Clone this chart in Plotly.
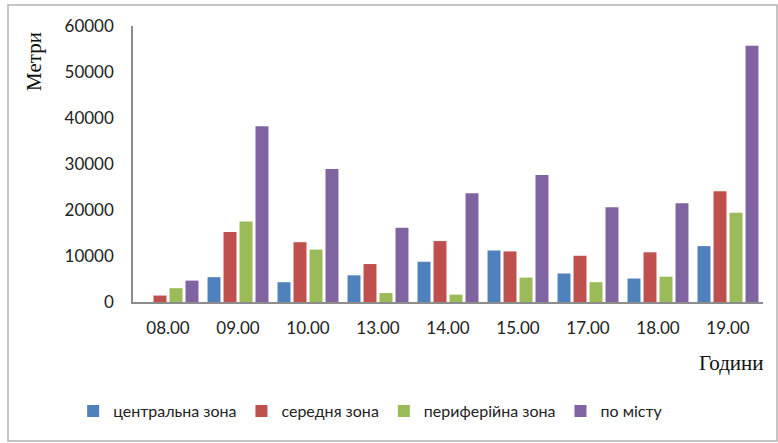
import plotly.graph_objects as go

# Hours of the survey and distances (metres) by zone
hours = ["08.00", "09.00", "10.00", "13.00", "14.00", "15.00", "17.00", "18.00", "19.00"]
central = [0, 5400, 4300, 5800, 8750, 11200, 6200, 5100, 12150]
middle = [1400, 15200, 13000, 8250, 13250, 11000, 10050, 10800, 24050]
peripheral = [3000, 17500, 11400, 1950, 1600, 5300, 4300, 5500, 19400]
city = [4650, 38200, 28900, 16150, 23650, 27600, 20600, 21450, 55700]

series_names = ["центральна зона", "середня зона", "периферійна зона", "по місту"]
series_values = [central, middle, peripheral, city]
series_colors = ["#4F81BD", "#C0504D", "#9BBB59", "#8064A2"]

fig = go.Figure()
for name, vals, col in zip(series_names, series_values, series_colors):
    fig.add_trace(go.Bar(x=hours, y=vals, name=name, marker=dict(color=col, line=dict(width=0))))

tick_font = dict(family="Lato", size=17, color="#222222")
serif_font = dict(family="Liberation Serif", size=21, color="#111111")

fig.update_layout(
    width=778, height=443,
    margin=dict(l=133, r=15, t=26, b=141),
    paper_bgcolor="white", plot_bgcolor="white",
    barmode="group", bargap=0.086, bargroupgap=0.19,
    showlegend=True,
    legend=dict(orientation="h", x=-0.095, y=-0.395, xanchor="left", yanchor="middle",
                font=dict(family="Lato", size=16, color="#222222"),
                itemwidth=30, traceorder="normal"),
    xaxis=dict(showline=True, linecolor="#8c8c8c", linewidth=1.5, showgrid=False,
               tickfont=tick_font, ticks="", ticklabelstandoff=10, fixedrange=True),
    yaxis=dict(range=[0, 60000], dtick=10000, showline=True, linecolor="#8c8c8c", linewidth=1.5,
               showgrid=False, zeroline=False, tickfont=tick_font, ticks="",
               ticklabelstandoff=14, tickformat="d", fixedrange=True),
    shapes=[dict(type="rect", xref="paper", yref="paper",
                 x0=(8 - 133) / 630, x1=(777 - 133) / 630,
                 y0=(302 - 441) / 276, y1=(302 - 5) / 276,
                 line=dict(color="#b3b3b3", width=1.5), fillcolor="rgba(0,0,0,0)", layer="below")],
    annotations=[
        dict(text="Метри", xref="paper", yref="paper", x=(34 - 133) / 630, y=(302 - 62) / 276,
             textangle=-90, showarrow=False, font=serif_font, xanchor="center", yanchor="middle"),
        dict(text="Години", xref="paper", yref="paper", x=(731 - 133) / 630, y=(302 - 363) / 276,
             showarrow=False, font=serif_font, xanchor="center", yanchor="middle"),
    ],
)

fig.write_html("out.html")
